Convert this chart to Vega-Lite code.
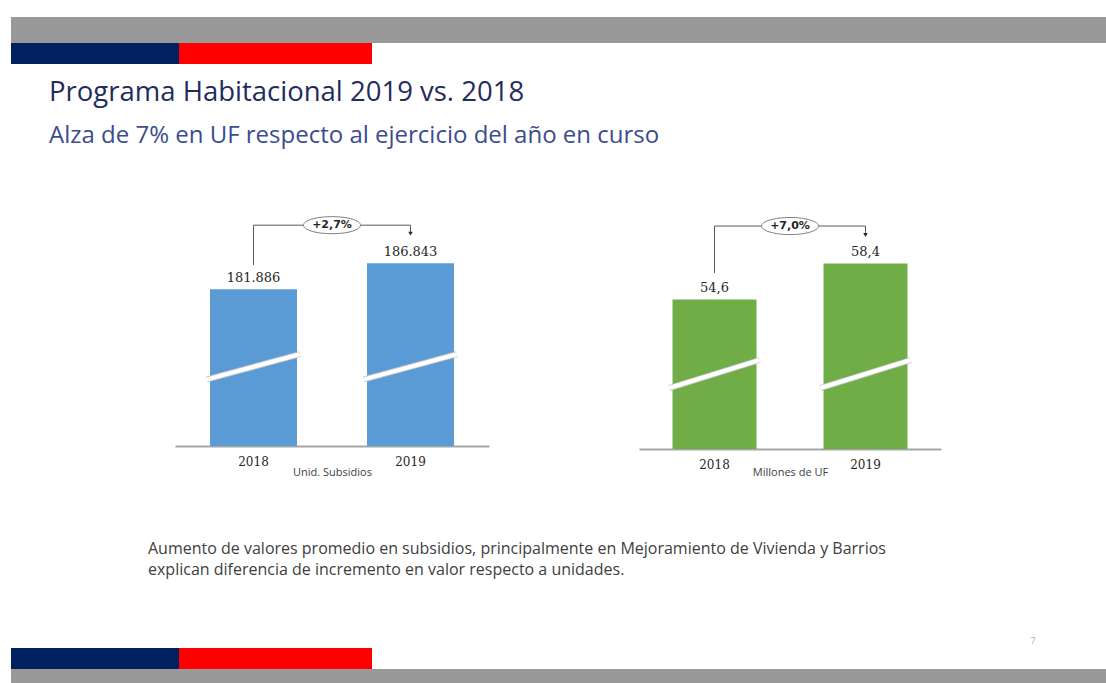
{
  "$schema": "https://vega.github.io/schema/vega-lite/v6.json",
  "padding": {"left": 11, "top": 17, "right": 0, "bottom": 0},
  "background": "white",
  "spacing": 0,
  "config": {
    "view": {"stroke": null},
    "concat": {"spacing": 0},
    "locale": {"number": {"decimal": ",", "thousands": ".", "grouping": [3], "currency": ["$", ""]}},
    "axisX": {
      "labelAngle": 0, "ticks": false, "domainColor": "#a6a6a6", "domainWidth": 2,
      "labelFont": "DejaVu Serif", "labelFontSize": 12, "labelColor": "#262626", "labelPadding": 10,
      "titleFont": "Open Sans", "titleFontSize": 11, "titleFontWeight": "normal", "titleColor": "#404040", "grid": false
    }
  },
  "vconcat": [
    {"width": 1095, "height": 26, "view": {"fill": "#999999", "stroke": null}, "data": {"values": []}, "mark": "point"},
    {"spacing": 0, "hconcat": [
      {"width": 168, "height": 21, "view": {"fill": "#002060", "stroke": null}, "data": {"values": []}, "mark": "point"},
      {"width": 193, "height": 21, "view": {"fill": "#ff0000", "stroke": null}, "data": {"values": []}, "mark": "point"}
    ]},
    {"width": 1, "height": 15, "data": {"values": []}, "mark": "point"},
    {
      "spacing": 0,
      "title": {
        "text": "Programa Habitacional 2019 vs. 2018",
        "subtitle": "Alza de 7% en UF respecto al ejercicio del año en curso",
        "anchor": "start", "dx": 38,
        "font": "Open Sans", "fontSize": 27.5, "fontWeight": "normal", "color": "#1f2c5c",
        "subtitleFont": "Open Sans", "subtitleFontSize": 24, "subtitleColor": "#3b4c8f",
        "subtitlePadding": 17.5, "offset": 52
      },
      "hconcat": [
        {"width": 164, "height": 1, "data": {"values": []}, "mark": "point"},
        {
          "width": 314, "height": 246,
          "data": {"values": [{"year": "2018", "value": 181886}, {"year": "2019", "value": 186843}]},
          "encoding": {
            "x": {"field": "year", "type": "nominal", "scale": {"paddingInner": 0, "paddingOuter": 0}, "axis": {"title": "Unid. Subsidios", "titlePadding": -1}}
          },
          "layer": [
            {"mark": {"type": "bar", "width": {"band": 0.554}, "color": "#5b9bd5"},
             "encoding": {"y": {"field": "value", "type": "quantitative", "scale": {"domain": [152000, 198900], "nice": false, "zero": false}, "axis": null}, "y2": {"datum": 152000}}},
            {"mark": {"type": "rule", "color": "#c8c8c8", "strokeWidth": 6},
             "encoding": {"x": {"field": "year", "type": "nominal", "bandPosition": 0.204}, "x2": {"field": "year", "bandPosition": 0.796}, "y": {"datum": 164700, "type": "quantitative"}, "y2": {"datum": 169500}}},
            {"mark": {"type": "rule", "color": "#ffffff", "strokeWidth": 4},
             "encoding": {"x": {"field": "year", "type": "nominal", "bandPosition": 0.204}, "x2": {"field": "year", "bandPosition": 0.796}, "y": {"datum": 164700, "type": "quantitative"}, "y2": {"datum": 169500}}},
            {"mark": {"type": "text", "baseline": "bottom", "dy": -4, "font": "DejaVu Serif", "fontSize": 13, "color": "#262626"},
             "encoding": {"y": {"field": "value", "type": "quantitative"}, "text": {"field": "value", "type": "quantitative", "format": ",d"}}},
            {"transform": [{"filter": "datum.year == '2018'"}],
             "mark": {"type": "rule", "color": "#595959", "strokeWidth": 1},
             "encoding": {"y": {"datum": 186500, "type": "quantitative"}, "y2": {"datum": 194100}}},
            {"mark": {"type": "line", "color": "#595959", "strokeWidth": 1},
             "encoding": {"y": {"datum": 194100, "type": "quantitative"}}},
            {"transform": [{"filter": "datum.year == '2019'"}],
             "mark": {"type": "rule", "color": "#595959", "strokeWidth": 1},
             "encoding": {"y": {"datum": 192600, "type": "quantitative"}, "y2": {"datum": 194100}}},
            {"transform": [{"filter": "datum.year == '2019'"}],
             "mark": {"type": "point", "shape": "triangle-down", "filled": true, "size": 20, "color": "#262626", "opacity": 1},
             "encoding": {"y": {"datum": 192500, "type": "quantitative"}}},
            {"transform": [{"filter": "datum.year == '2018'"}],
             "mark": {"type": "point", "shape": "M-1,0A1,0.3,0,1,1,1,0A1,0.3,0,1,1,-1,0Z", "filled": true, "fill": "#ffffff", "stroke": "#7f7f7f", "strokeWidth": 1, "size": 3249, "opacity": 1},
             "encoding": {"x": {"field": "year", "type": "nominal", "bandPosition": 1}, "y": {"datum": 194100, "type": "quantitative"}}},
            {"transform": [{"filter": "datum.year == '2018'"}],
             "mark": {"type": "text", "text": "+2,7%", "font": "DejaVu Sans", "fontWeight": "bold", "fontSize": 11, "color": "#262626"},
             "encoding": {"x": {"field": "year", "type": "nominal", "bandPosition": 1}, "y": {"datum": 194100, "type": "quantitative"}}}
          ]
        },
        {"width": 150, "height": 1, "data": {"values": []}, "mark": "point"},
        {
          "width": 302, "height": 249,
          "data": {"values": [{"year": "2018", "value": 54.6}, {"year": "2019", "value": 58.4}]},
          "encoding": {
            "x": {"field": "year", "type": "nominal", "scale": {"paddingInner": 0, "paddingOuter": 0}, "axis": {"title": "Millones de UF", "titlePadding": -4}}
          },
          "layer": [
            {"mark": {"type": "bar", "width": {"band": 0.556}, "color": "#70ad47"},
             "encoding": {"y": {"field": "value", "type": "quantitative", "scale": {"domain": [38.8, 65.1], "nice": false, "zero": false}, "axis": null}, "y2": {"datum": 38.8}}},
            {"mark": {"type": "rule", "color": "#c8c8c8", "strokeWidth": 6},
             "encoding": {"x": {"field": "year", "type": "nominal", "bandPosition": 0.2}, "x2": {"field": "year", "bandPosition": 0.8}, "y": {"datum": 45.24, "type": "quantitative"}, "y2": {"datum": 48.2}}},
            {"mark": {"type": "rule", "color": "#ffffff", "strokeWidth": 4},
             "encoding": {"x": {"field": "year", "type": "nominal", "bandPosition": 0.2}, "x2": {"field": "year", "bandPosition": 0.8}, "y": {"datum": 45.24, "type": "quantitative"}, "y2": {"datum": 48.2}}},
            {"mark": {"type": "text", "baseline": "bottom", "dy": -4, "font": "DejaVu Serif", "fontSize": 13, "color": "#262626"},
             "encoding": {"y": {"field": "value", "type": "quantitative"}, "text": {"field": "value", "type": "quantitative", "format": ".1f"}}},
            {"transform": [{"filter": "datum.year == '2018'"}],
             "mark": {"type": "rule", "color": "#595959", "strokeWidth": 1},
             "encoding": {"y": {"datum": 57.39, "type": "quantitative"}, "y2": {"datum": 62.35}}},
            {"mark": {"type": "line", "color": "#595959", "strokeWidth": 1},
             "encoding": {"y": {"datum": 62.35, "type": "quantitative"}}},
            {"transform": [{"filter": "datum.year == '2019'"}],
             "mark": {"type": "rule", "color": "#595959", "strokeWidth": 1},
             "encoding": {"y": {"datum": 61.5, "type": "quantitative"}, "y2": {"datum": 62.35}}},
            {"transform": [{"filter": "datum.year == '2019'"}],
             "mark": {"type": "point", "shape": "triangle-down", "filled": true, "size": 20, "color": "#262626", "opacity": 1},
             "encoding": {"y": {"datum": 61.4, "type": "quantitative"}}},
            {"transform": [{"filter": "datum.year == '2018'"}],
             "mark": {"type": "point", "shape": "M-1,0A1,0.3,0,1,1,1,0A1,0.3,0,1,1,-1,0Z", "filled": true, "fill": "#ffffff", "stroke": "#7f7f7f", "strokeWidth": 1, "size": 3249, "opacity": 1},
             "encoding": {"x": {"field": "year", "type": "nominal", "bandPosition": 1}, "y": {"datum": 62.35, "type": "quantitative"}}},
            {"transform": [{"filter": "datum.year == '2018'"}],
             "mark": {"type": "text", "text": "+7,0%", "font": "DejaVu Sans", "fontWeight": "bold", "fontSize": 11, "color": "#262626"},
             "encoding": {"x": {"field": "year", "type": "nominal", "bandPosition": 1}, "y": {"datum": 62.35, "type": "quantitative"}}}
          ]
        }
      ]
    },
    {"width": 1, "height": 64, "data": {"values": []}, "mark": "point"},
    {
      "width": 1095, "height": 70,
      "title": {
        "text": ["Aumento de valores promedio en subsidios, principalmente en Mejoramiento de Vivienda y Barrios", "explican diferencia de incremento en valor respecto a unidades."],
        "anchor": "start", "dx": 137, "font": "Open Sans", "fontSize": 16, "fontWeight": "normal", "color": "#404040", "lineHeight": 21, "offset": 0
      },
      "data": {"values": [{"page": "7"}]},
      "mark": {"type": "text", "x": "width", "dx": -73, "y": "height", "dy": -7, "font": "Open Sans", "fontSize": 9, "color": "#b0b0b0"},
      "encoding": {"text": {"field": "page", "type": "nominal"}}
    },
    {"spacing": 0, "hconcat": [
      {"width": 168, "height": 21, "view": {"fill": "#002060", "stroke": null}, "data": {"values": []}, "mark": "point"},
      {"width": 193, "height": 21, "view": {"fill": "#ff0000", "stroke": null}, "data": {"values": []}, "mark": "point"}
    ]},
    {"width": 1095, "height": 14, "view": {"fill": "#999999", "stroke": null}, "data": {"values": []}, "mark": "point"}
  ]
}
